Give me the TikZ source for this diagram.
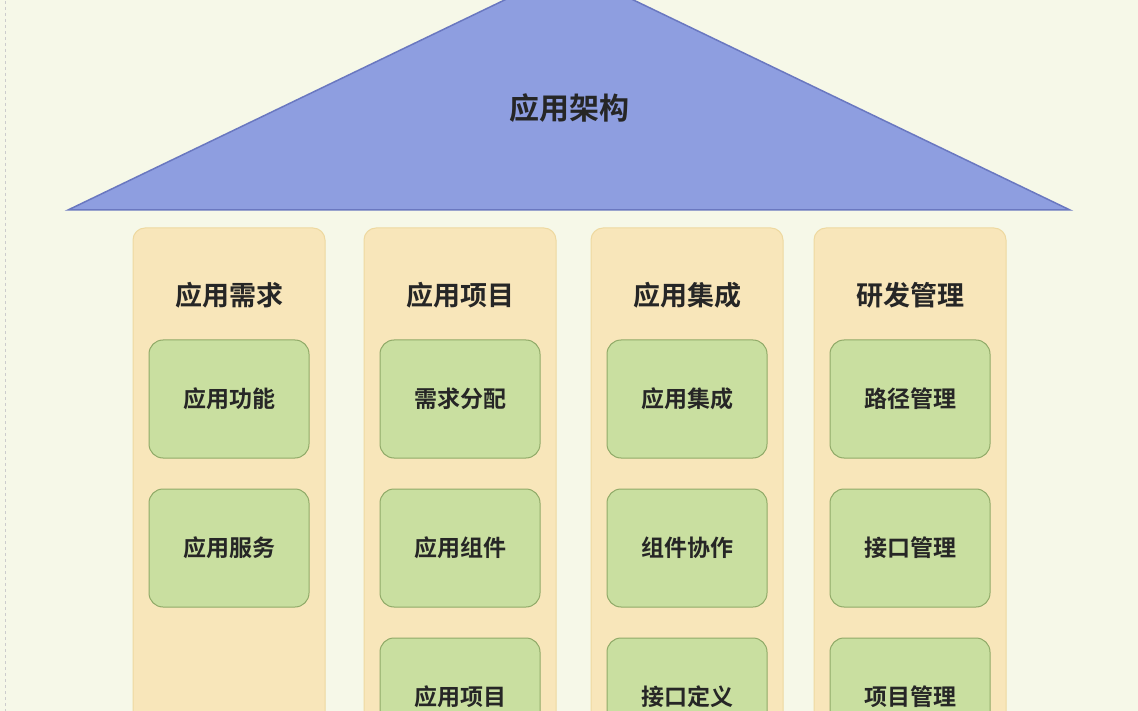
\documentclass[tikz,border=0pt]{standalone}
\usepackage{fontspec}
\newfontfamily\cjk{Noto Sans CJK SC Bold}
\definecolor{bg}{HTML}{F6F8E8}
\definecolor{roof}{HTML}{8E9EE0}
\definecolor{roofline}{HTML}{6A78C0}
\definecolor{col}{HTML}{F8E6BA}
\definecolor{colline}{HTML}{EED9A0}
\definecolor{inner}{HTML}{C9DFA0}
\definecolor{innerline}{HTML}{90AA68}
\tikzset{
 colbox/.style={fill=col,draw=colline,line width=1pt,rounded corners=12pt},
 itembox/.style={fill=inner,draw=innerline,line width=1pt,rounded corners=14pt,minimum width=160pt,minimum height=118pt,font=\cjk\fontsize{23}{26}\selectfont,text=black!85},
 coltitle/.style={font=\cjk\fontsize{27}{30}\selectfont,text=black!85},
}
\begin{document}
\begin{tikzpicture}[x=1pt,y=-1pt]
\useasboundingbox (0,0) rectangle (1138,711);
\clip (0,0) rectangle (1138,711);
\fill[bg] (0,0) rectangle (1138,711);
\draw[gray!40,dashed,line width=0.8pt] (5,-5) -- (5,720);
\draw[fill=roof,draw=roofline,line width=1.5pt] (68,210) -- (569,-31) -- (1070,210) -- cycle;
\node[font=\cjk\fontsize{30}{34}\selectfont,text=black!85] (roofT) at (569,108) {应用架构};
\foreach \x/\n in {229/a,460/b,687/c,910/d}{
  \draw[colbox] (\x-96,228) rectangle (\x+96,740);
}
\node[coltitle] (ta) at (229,295) {应用需求};
\node[coltitle] (tb) at (460,295) {应用项目};
\node[coltitle] (tc) at (687,295) {应用集成};
\node[coltitle] (td) at (910,295) {研发管理};
\node[itembox] (a1) at (229,399) {应用功能};
\node[itembox] (a2) at (229,548) {应用服务};
\node[itembox] (b1) at (460,399) {需求分配};
\node[itembox] (b2) at (460,548) {应用组件};
\node[itembox] (b3) at (460,697) {应用项目};
\node[itembox] (c1) at (687,399) {应用集成};
\node[itembox] (c2) at (687,548) {组件协作};
\node[itembox] (c3) at (687,697) {接口定义};
\node[itembox] (d1) at (910,399) {路径管理};
\node[itembox] (d2) at (910,548) {接口管理};
\node[itembox] (d3) at (910,697) {项目管理};
\end{tikzpicture}
\end{document}
